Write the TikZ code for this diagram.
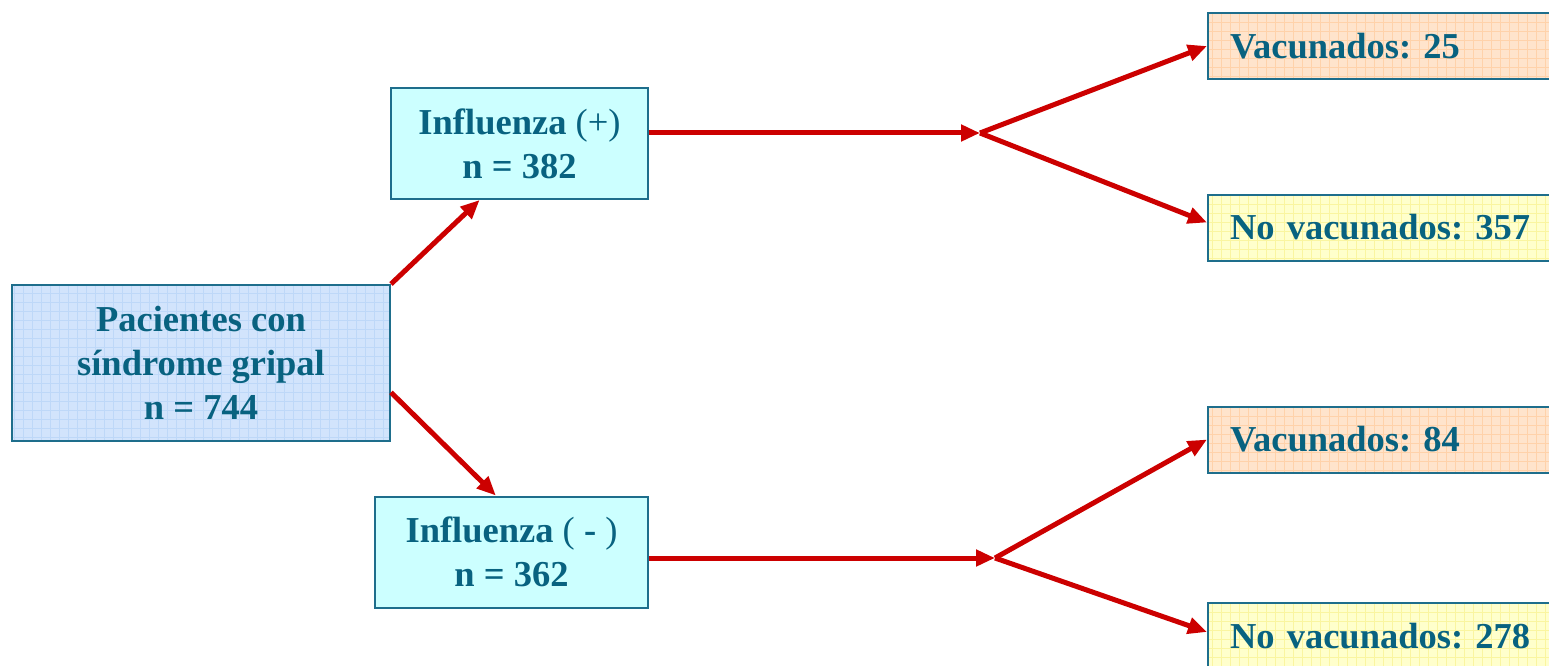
\documentclass[tikz,border=0pt]{standalone}
\usepackage{fontspec}
\setmainfont{Liberation Serif}
\usetikzlibrary{arrows.meta,calc}
\frenchspacing
\definecolor{txt}{RGB}{8,98,128}
\definecolor{brd}{RGB}{30,110,140}
\definecolor{arr}{RGB}{204,0,0}
\definecolor{blueF}{RGB}{210,228,252}
\definecolor{blueG}{RGB}{190,216,248}
\definecolor{cyanF}{RGB}{204,255,255}
\definecolor{peachF}{RGB}{255,228,204}
\definecolor{peachG}{RGB}{255,210,170}
\definecolor{yelF}{RGB}{255,255,204}
\definecolor{yelG}{RGB}{250,245,160}
\tikzset{
  basebox/.style={draw=brd, line width=2pt, text=txt, font=\fontsize{36.5}{44}\selectfont\bfseries\frenchspacing, inner sep=0pt},
  gridfill/.style={path picture={\draw[#1, line width=0.6pt, step=9pt] (path picture bounding box.south west) grid (path picture bounding box.north east);}},
  pacbox/.style={basebox, fill=blueF, gridfill=blueG, minimum width=378pt, minimum height=156pt, align=center},
  infbox/.style={basebox, fill=cyanF, minimum height=111pt, align=center},
  vacbox/.style={basebox, fill=peachF, gridfill=peachG, anchor=west, text width=356pt, inner xsep=22pt, minimum height=66pt, align=left},
  novacbox/.style={basebox, fill=yelF, gridfill=yelG, anchor=west, text width=356pt, inner xsep=22pt, minimum height=66pt, align=left},
  conn/.style={draw=arr, line width=5pt},
  arrowc/.style={conn, -{Triangle[length=19pt,width=16pt]}},
}
\begin{document}
\begin{tikzpicture}[x=1pt,y=-1pt]
\useasboundingbox (0,0) rectangle (1549,666);
\clip (0,0) rectangle (1549,666);
\node[pacbox] (pac) at (201,363) {Pacientes con\\síndrome gripal\\n = 744};
\node[infbox, minimum width=257pt] (inf1) at (519.5,143.5) {Influenza \textmd{(+)}\\n = 382};
\node[infbox, minimum width=273pt] (inf2) at (511.5,552) {Influenza \textmd{(} - \textmd{)}\\n = 362};
\node[vacbox] (vac1) at (1207,46) {Vacunados: 25};
\node[novacbox] (novac1) at (1207,227.5) {No vacunados: 357};
\node[vacbox] (vac2) at (1207,439.5) {Vacunados: 84};
\node[novacbox] (novac2) at (1207,636) {No vacunados: 278};
\coordinate (b1) at (980,133);
\coordinate (b2) at (995,558);
\draw[arrowc] (pac.north east) -- ($(inf1.south west)!0.346!(inf1.south east)$);
\draw[arrowc] ($(pac.north east)!0.686!(pac.south east)$) -- ($(inf2.north west)!0.443!(inf2.north east)$);
\draw[arrowc] (inf1.east |- b1) -- (b1);
\draw[arrowc] (inf2.east |- b2) -- (b2);
\draw[arrowc] (b1) -- (vac1.west);
\draw[arrowc] (b1) -- ($(novac1.west)+(0,-5)$);
\draw[arrowc] (b2) -- (vac2.west);
\draw[arrowc] (b2) -- ($(novac2.west)+(0,-4)$);
\end{tikzpicture}
\end{document}
